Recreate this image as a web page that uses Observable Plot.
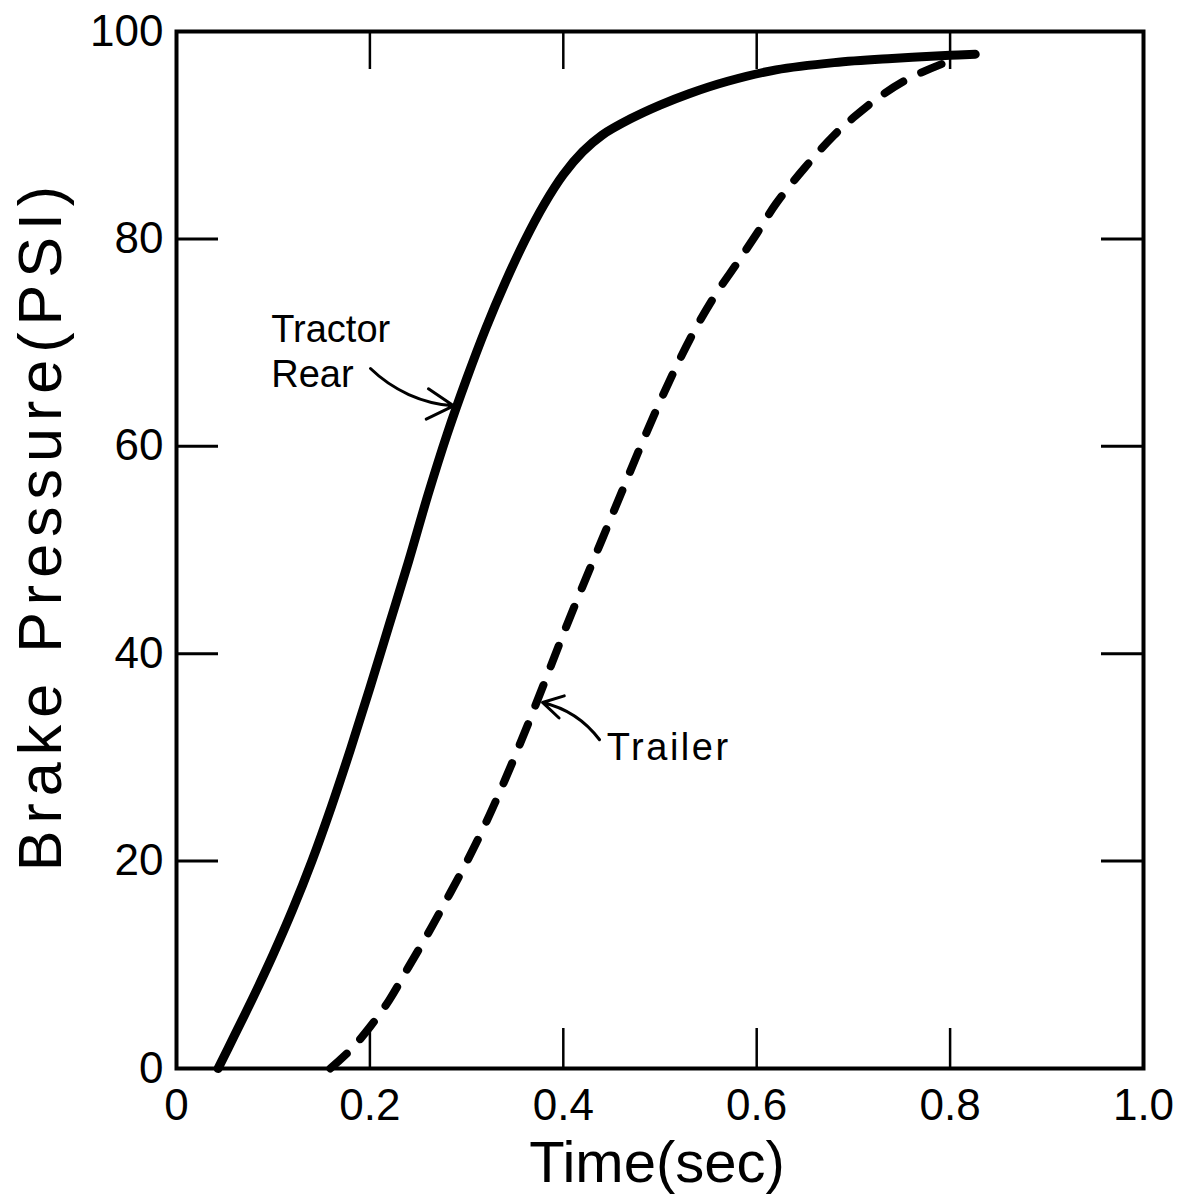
<!DOCTYPE html>
<html>
<head>
<meta charset="utf-8">
<script src="https://cdn.jsdelivr.net/npm/d3@7"></script>
<script src="https://cdn.jsdelivr.net/npm/@observablehq/plot@0.6"></script>
<style>
  html, body { margin: 0; padding: 0; background: #fff; }
  #chart svg { display: block; }
</style>
</head>
<body>
<div id="chart"></div>
<script>
// ---- data ----
const tractorTime = [0.043, 0.06, 0.08, 0.10, 0.12, 0.14, 0.16, 0.18, 0.20, 0.22, 0.24, 0.26, 0.28, 0.30, 0.32, 0.34, 0.36, 0.38, 0.40, 0.42, 0.44, 0.47, 0.50, 0.53, 0.57, 0.62, 0.68, 0.74, 0.80, 0.826];
const tractorPsi  = [0, 3.2, 7, 11, 15.3, 20, 25.2, 30.8, 36.7, 42.8, 48.9, 55.3, 61.2, 66.5, 71.4, 75.8, 79.8, 83.3, 86.2, 88.4, 90.0, 91.6, 92.9, 94.0, 95.2, 96.3, 97.0, 97.4, 97.7, 97.8];

const trailerTime = [0.159, 0.18, 0.20, 0.22, 0.24, 0.26, 0.28, 0.30, 0.32, 0.34, 0.36, 0.38, 0.40, 0.42, 0.44, 0.46, 0.48, 0.50, 0.52, 0.54, 0.56, 0.58, 0.60, 0.62, 0.65, 0.68, 0.70, 0.73, 0.76, 0.795];
const trailerPsi  = [0, 1.8, 4, 6.6, 9.8, 13, 16.4, 19.9, 23.7, 27.9, 32.4, 37.1, 41.9, 46.5, 51, 55.5, 60, 64.3, 68.3, 71.9, 75, 77.7, 80.5, 83.4, 86.9, 90, 91.7, 93.9, 95.6, 97];

const xTicks = [0, 0.2, 0.4, 0.6, 0.8, 1.0];
const xTickLabels = ["0", "0.2", "0.4", "0.6", "0.8", "1.0"];
const yTicks = [0, 20, 40, 60, 80, 100];
const yTickLabels = ["0", "20", "40", "60", "80", "100"];
const xInner = [0.2, 0.4, 0.6, 0.8];
const yInner = [20, 40, 60, 80];

const xTitle = "Time(sec)";
const yTitle = "Brake Pressure(PSI)";

const labels = [
  {name: "Tractor\nRear", t: 0.098, p: 69.3},
  {name: "Trailer", t: 0.445, p: 31.1}
];
const arrows = [
  {t1: 0.2006, p1: 67.5, t2: 0.2865, p2: 63.9},
  {t1: 0.4375, p1: 31.7, t2: 0.3785, p2: 35.3}
];

// ---- tables ----
const tractor = tractorTime.map((t, i) => ({t, p: tractorPsi[i]}));
const trailer = trailerTime.map((t, i) => ({t, p: trailerPsi[i]}));

const font = "'Liberation Sans', Arial, sans-serif";

const chart = Plot.plot({
  width: 1177,
  height: 1196,
  marginLeft: 176,
  marginRight: 34,
  marginTop: 31,
  marginBottom: 128,
  style: {fontFamily: font, background: "#fff", color: "#000"},
  x: {domain: [0, 1], axis: null},
  y: {domain: [0, 100], axis: null},
  marks: [
    // inward ticks
    Plot.axisX(xInner, {anchor: "bottom", tickSize: -40, tickFormat: () => "", strokeWidth: 2.5}),
    Plot.axisX(xInner, {anchor: "top", tickSize: -37, tickFormat: () => "", strokeWidth: 2.5}),
    Plot.axisY(yInner, {anchor: "left", tickSize: -42, tickFormat: () => "", strokeWidth: 3}),
    Plot.axisY(yInner, {anchor: "right", tickSize: -43, tickFormat: () => "", strokeWidth: 3}),
    // tick labels
    Plot.axisX(xTicks, {anchor: "bottom", tickSize: 0, tickPadding: 20, fontSize: 44,
      tickFormat: d => xTickLabels[xTicks.indexOf(d)], label: null}),
    Plot.axisY(yTicks, {anchor: "left", tickSize: 0, tickPadding: 13, fontSize: 44,
      tickFormat: d => yTickLabels[yTicks.indexOf(d)], label: null}),
    Plot.frame({stroke: "#000", strokeWidth: 4}),
    // axis titles
    Plot.text([xTitle], {frameAnchor: "bottom", dy: 113, dx: -3, lineAnchor: "bottom",
      textAnchor: "middle", fontSize: 58, fill: "#000"}),
    Plot.text([yTitle], {frameAnchor: "left", rotate: -90, dx: -135, dy: -25,
      textAnchor: "middle", lineAnchor: "middle", fontSize: 61, fill: "#000"}),
    // curves
    Plot.line(tractor, {x: "t", y: "p", stroke: "#000", strokeWidth: 9, curve: "catmull-rom",
      strokeLinecap: "round"}),
    Plot.line(trailer, {x: "t", y: "p", stroke: "#000", strokeWidth: 8, curve: "catmull-rom",
      strokeDasharray: "22,20", strokeLinecap: "round"}),
    // annotations
    Plot.text(labels, {x: "t", y: "p", text: "name", textAnchor: "start", fontSize: 38,
      lineHeight: 1.18, fill: "#000"}),
    Plot.arrow(arrows, {x1: "t1", y1: "p1", x2: "t2", y2: "p2", bend: -20, stroke: "#000",
      strokeWidth: 3, headLength: 18})
  ]
});

// widen lettering to match the hand-lettered original
d3.select(chart).selectAll("text")
  .filter(function() { return this.textContent === yTitle; })
  .attr("letter-spacing", "7px");
d3.select(chart).selectAll("text")
  .filter(function() { return this.textContent === "Trailer"; })
  .attr("letter-spacing", "2.5px");

document.getElementById("chart").appendChild(chart);
</script>
</body>
</html>
